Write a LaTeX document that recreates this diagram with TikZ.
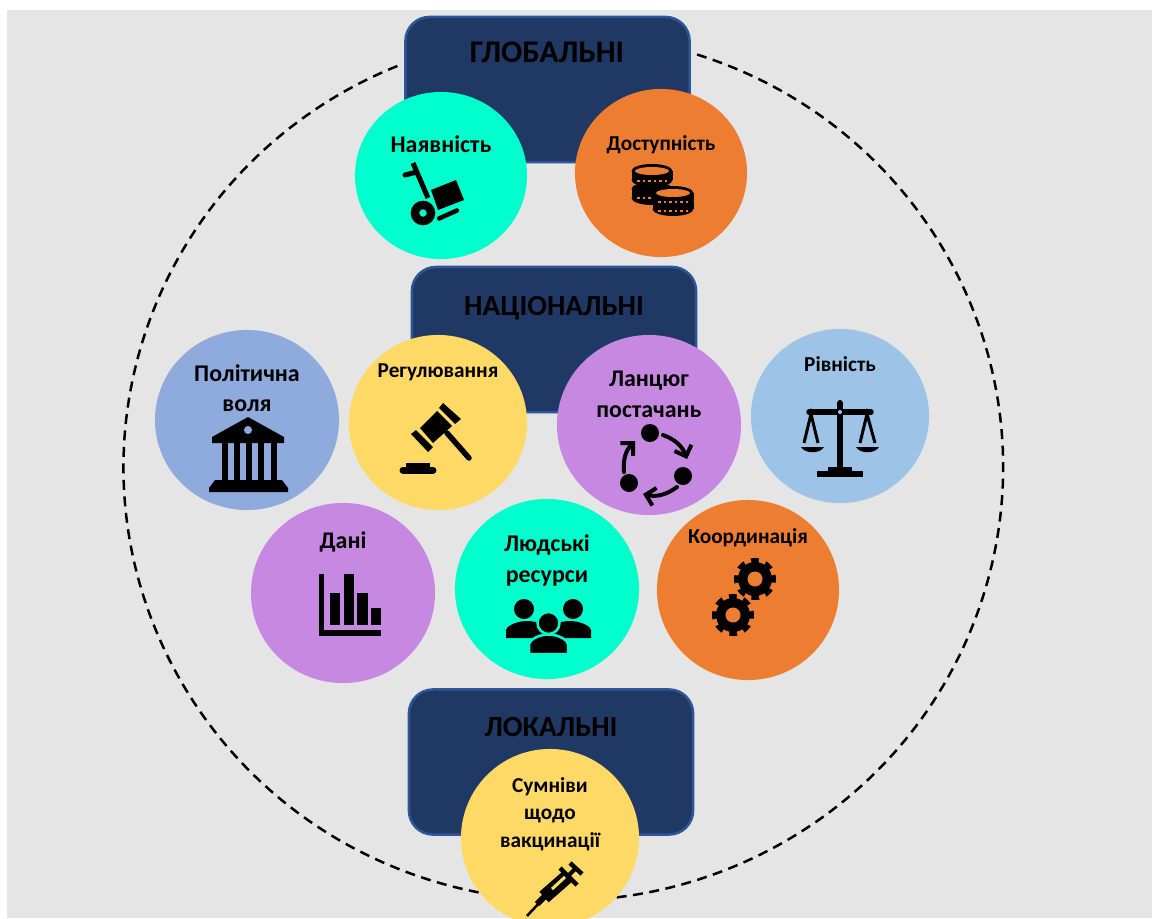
\documentclass[tikz,border=0pt]{standalone}
\usepackage{fontspec}
\setmainfont{Carlito}
\usetikzlibrary{shapes.geometric,arrows.meta}
\definecolor{backgrey}{HTML}{E5E5E5}
\definecolor{navybox}{HTML}{1F3864}
\definecolor{navyedge}{HTML}{2F5597}
\definecolor{spotteal}{HTML}{00FFCC}
\definecolor{spotorange}{HTML}{ED7D31}
\definecolor{spotblue}{HTML}{8FAADC}
\definecolor{spotyellow}{HTML}{FFD966}
\definecolor{spotpurple}{HTML}{C688E0}
\definecolor{spotsky}{HTML}{9DC3E6}
\tikzset{
    levelbox/.style={draw=navyedge, line width=0.025cm, fill=navybox, rounded corners=0.24cm, inner sep=0, minimum width=2.84cm, minimum height=1.45cm},
    spot/.style={ellipse, inner sep=0},
    leveltext/.style={anchor=base, inner sep=0, font=\fontsize{8.3}{10}\selectfont\bfseries},
    toptext/.style={anchor=base, inner sep=0, font=\fontsize{8.95}{10}\selectfont\bfseries},
    spottext/.style={anchor=base, inner sep=0, font=\fontsize{6.8}{8}\selectfont\bfseries},
    smalltext/.style={anchor=base, inner sep=0, font=\fontsize{6.05}{8}\selectfont\bfseries},
}

\begin{document}
\begin{tikzpicture}[x=0.01cm, y=-0.01cm]
        \useasboundingbox (0,0) rectangle (1152,918);
        \fill[backgrey] (7,10) rectangle (1152,918);

        % dashed ring
        \draw[line width=0.025cm, dash pattern=on 0.1cm off 0.065cm] (697,54.5) arc[start angle=72.3, end angle=-247.9, x radius=4.395cm, y radius=4.33cm];

        % level boxes
        \node[levelbox] (globalbox) at (547.5,89.5) {};
        \node[levelbox] (nationalbox) at (554,339.5) {};
        \node[levelbox] (localbox) at (551,762) {};
        \node[toptext] (globaltext) at (547,62) {ГЛОБАЛЬНІ};
        \node[leveltext] (nationaltext) at (554,315) {НАЦІОНАЛЬНІ};
        \node[leveltext] (localtext) at (551,736) {ЛОКАЛЬНІ};

        % spots
        \node[spot, fill=spotteal, minimum width=1.72cm, minimum height=1.67cm] (supplyspot) at (441,175.5) {};
        \node[spot, fill=spotorange, minimum width=1.72cm, minimum height=1.68cm] (accessspot) at (661,173) {};
        \node[spot, fill=spotblue, minimum width=1.84cm, minimum height=1.80cm] (willspot) at (247,420) {};
        \node[spot, fill=spotyellow, minimum width=1.78cm, minimum height=1.75cm] (rulespot) at (438,422.5) {};
        \node[spot, fill=spotpurple, minimum width=1.84cm, minimum height=1.80cm] (chainspot) at (649,425) {};
        \node[spot, fill=spotsky, minimum width=1.78cm, minimum height=1.74cm] (equalspot) at (840,416) {};
        \node[spot, fill=spotpurple, minimum width=1.84cm, minimum height=1.80cm] (dataspot) at (343,593) {};
        \node[spot, fill=spotteal, minimum width=1.84cm, minimum height=1.80cm] (staffspot) at (547,589) {};
        \node[spot, fill=spotorange, minimum width=1.82cm, minimum height=1.80cm] (coordspot) at (748,590) {};
        \node[spot, fill=spotyellow, minimum width=1.78cm, minimum height=1.78cm] (doubtspot) at (550,838) {};

        % spot labels
        \node[spottext] (supplytext) at (441,152) {Наявність};
        \node[smalltext] (accesstext) at (661,150.5) {Доступність};
        \node[spottext] (willtext) at (247,381) {Політична};
        \node[spottext] (willtexttwo) at (247,411.5) {воля};
        \node[smalltext] (ruletext) at (438,377.5) {Регулювання};
        \node[spottext] (chaintext) at (649,386) {Ланцюг};
        \node[spottext] (chaintexttwo) at (649,417) {постачань};
        \node[smalltext] (equaltext) at (840,371.5) {Рівність};
        \node[spottext] (datatext) at (343,548) {Дані};
        \node[spottext] (stafftext) at (547,551) {Людські};
        \node[spottext] (stafftexttwo) at (547,582.5) {ресурси};
        \node[smalltext] (coordtext) at (748,543) {Координація};
        \node[smalltext] (doubttext) at (550,792.5) {Сумніви};
        \node[smalltext] (doubttexttwo) at (550,819) {щодо};
        \node[smalltext] (doubttextthree) at (550,847) {вакцинації};

        % hand truck
        \draw[line width=0.05cm, line cap=round] (405,175) -- (415,172.5);
        \draw[line width=0.05cm] (413,163) -- (428,198);
        \fill (431,190) -- (456,180) -- (464,200) -- (438,210) -- cycle;
        \draw[line width=0.085cm] (423,213) circle (0.08cm);
        \draw[line width=0.045cm, line cap=round] (439,218.5) -- (457,210.5);

        % coins
        \fill (631.5,189) rectangle (672.5,198);
        \fill (652,189) ellipse [x radius=0.205cm, y radius=0.07cm];
        \fill (652,198) ellipse [x radius=0.205cm, y radius=0.07cm];
        \draw[spotorange, line width=0.025cm, dash pattern=on 0.025cm off 0.03cm] (637,198) -- (667,198);
        \fill (631.5,171) rectangle (672.5,180);
        \fill (652,171) ellipse [x radius=0.205cm, y radius=0.07cm];
        \fill (652,180) ellipse [x radius=0.205cm, y radius=0.07cm];
        \fill[spotorange] (652,171) ellipse [x radius=0.17cm, y radius=0.04cm];
        \draw[spotorange, line width=0.025cm, dash pattern=on 0.025cm off 0.03cm] (637,181) -- (667,181);
        \fill (652.5,202) rectangle (693.5,209);
        \fill (673,202) ellipse [x radius=0.205cm, y radius=0.07cm];
        \fill (673,209) ellipse [x radius=0.205cm, y radius=0.07cm];
        \draw[spotorange, line width=0.025cm, dash pattern=on 0.025cm off 0.03cm] (658,211) -- (688,211);
        \fill (652.5,193) rectangle (693.5,201);
        \fill (673,193) ellipse [x radius=0.205cm, y radius=0.07cm];
        \fill (673,201) ellipse [x radius=0.205cm, y radius=0.07cm];
        \fill[spotorange] (673,193) ellipse [x radius=0.17cm, y radius=0.04cm];
        \draw[spotorange, line width=0.025cm, dash pattern=on 0.025cm off 0.03cm] (658,202) -- (688,202);

        % bank
        \fill (248,417) -- (284,437) -- (284,443) -- (212,443) -- (212,437) -- cycle;
        \fill[spotblue] (248,430) circle (0.04cm);
        \fill (222,443) rectangle (227.5,480);
        \fill (233.5,443) rectangle (239.5,480);
        \fill (246,443) rectangle (252,480);
        \fill (258,443) rectangle (264,480);
        \fill (270.5,443) rectangle (276.5,480);
        \fill (215,480) -- (282,480) -- (288,488) -- (288,492) -- (209,492) -- (209,488) -- cycle;

        % gavel
        \fill (420,428) -- (437,411) -- (452,426) -- (433,443) -- cycle;
        \fill (439,408) -- (443,403) -- (461,419) -- (455,424) -- cycle;
        \fill (411,434) -- (416,430) -- (433,447) -- (428,452) -- cycle;
        \draw[line width=0.055cm, line cap=round] (447,433) -- (469,458);
        \draw[line width=0.07cm, line cap=round] (403,470) -- (433,470);
        \fill (406,463) rectangle (430,468);

        % supply cycle
        \fill (650,433) circle (0.09cm);
        \fill (683,476) circle (0.09cm);
        \fill (629,483) circle (0.09cm);
        \draw[line width=0.04cm, line cap=round, -{Straight Barb[length=0.09cm, width=0.18cm]}] (663,435) to[bend left=25] (687,459);
        \draw[line width=0.04cm, line cap=round, -{Straight Barb[length=0.09cm, width=0.18cm]}] (677,487) to[bend left=25] (643,494);
        \draw[line width=0.04cm, line cap=round, -{Straight Barb[length=0.09cm, width=0.18cm]}] (624,472) to[bend left=25] (635,441);

        % scales
        \draw[line width=0.06cm, line cap=round] (840,403) -- (840,470);
        \draw[line width=0.055cm, line cap=round] (809,412) -- (871,412);
        \fill (817,471) rectangle (863,477);
        \fill (828,467) rectangle (852,471);
        \fill[spotsky] (840,412) circle (0.02cm);
        \draw[line width=0.03cm] (804,443) -- (811,414) -- (818,443);
        \draw[line width=0.03cm] (860,443) -- (867,414) -- (875,443);
        \fill (801,447) -- (824,447) .. controls (820,454) and (805,454) .. cycle;
        \fill (856,447) -- (879,447) .. controls (875,454) and (860,454) .. cycle;

        % chart
        \fill (319,574) rectangle (324,636);
        \fill (319,630) rectangle (381,636);
        \fill (329.5,593) rectangle (340,625);
        \fill (344,574) rectangle (354,625);
        \fill (357,593) rectangle (367.5,625);
        \fill (371,608) rectangle (381,625);

        % people
        \fill (524,609) circle (0.1cm);
        \fill (573,609) circle (0.1cm);
        \fill (506,638) -- (506,630) .. controls (508,624) and (520,621) .. (527,621) .. controls (535,621) and (548,624) .. (548,632) -- (548,638) -- cycle;
        \fill (549,638) -- (549,632) .. controls (549,624) and (562,621) .. (570,621) .. controls (577,621) and (589,624) .. (591,630) -- (591,638) -- cycle;
        \draw[spotteal, line width=0.025cm, fill=black] (548.5,623) circle (0.11cm);
        \draw[spotteal, line width=0.025cm, fill=black] (529,654) -- (529,644) .. controls (531,638) and (541,634.5) .. (548.5,634.5) .. controls (556,634.5) and (566,638) .. (568,644) -- (568,654) -- cycle;

        % gears
        \fill (755,579) circle (0.17cm);
        \draw[line width=0.05cm, dash pattern=on 0.075cm off 0.0703cm, dash phase=0.0375cm] (755,579) circle (0.185cm);
        \fill[spotorange] (755,579) circle (0.075cm);
        \fill (733,615) circle (0.17cm);
        \draw[line width=0.05cm, dash pattern=on 0.075cm off 0.0703cm, dash phase=0.0375cm] (733,615) circle (0.185cm);
        \fill[spotorange] (733,615) circle (0.075cm);

        % syringe
        \draw[line width=0.025cm] (527,916) -- (540,902);
        \draw[line width=0.06cm] (537,904) -- (545,896);
        \draw[line width=0.14cm] (544,897) -- (568,876);
        \draw[spotyellow, line width=0.03cm] (552,889) -- (565,877);
        \draw[line width=0.045cm] (560,868) -- (577,885);
        \draw[line width=0.04cm] (568,876) -- (575,869);
        \draw[line width=0.045cm] (570,863) -- (582,874);
\end{tikzpicture}
\end{document}
